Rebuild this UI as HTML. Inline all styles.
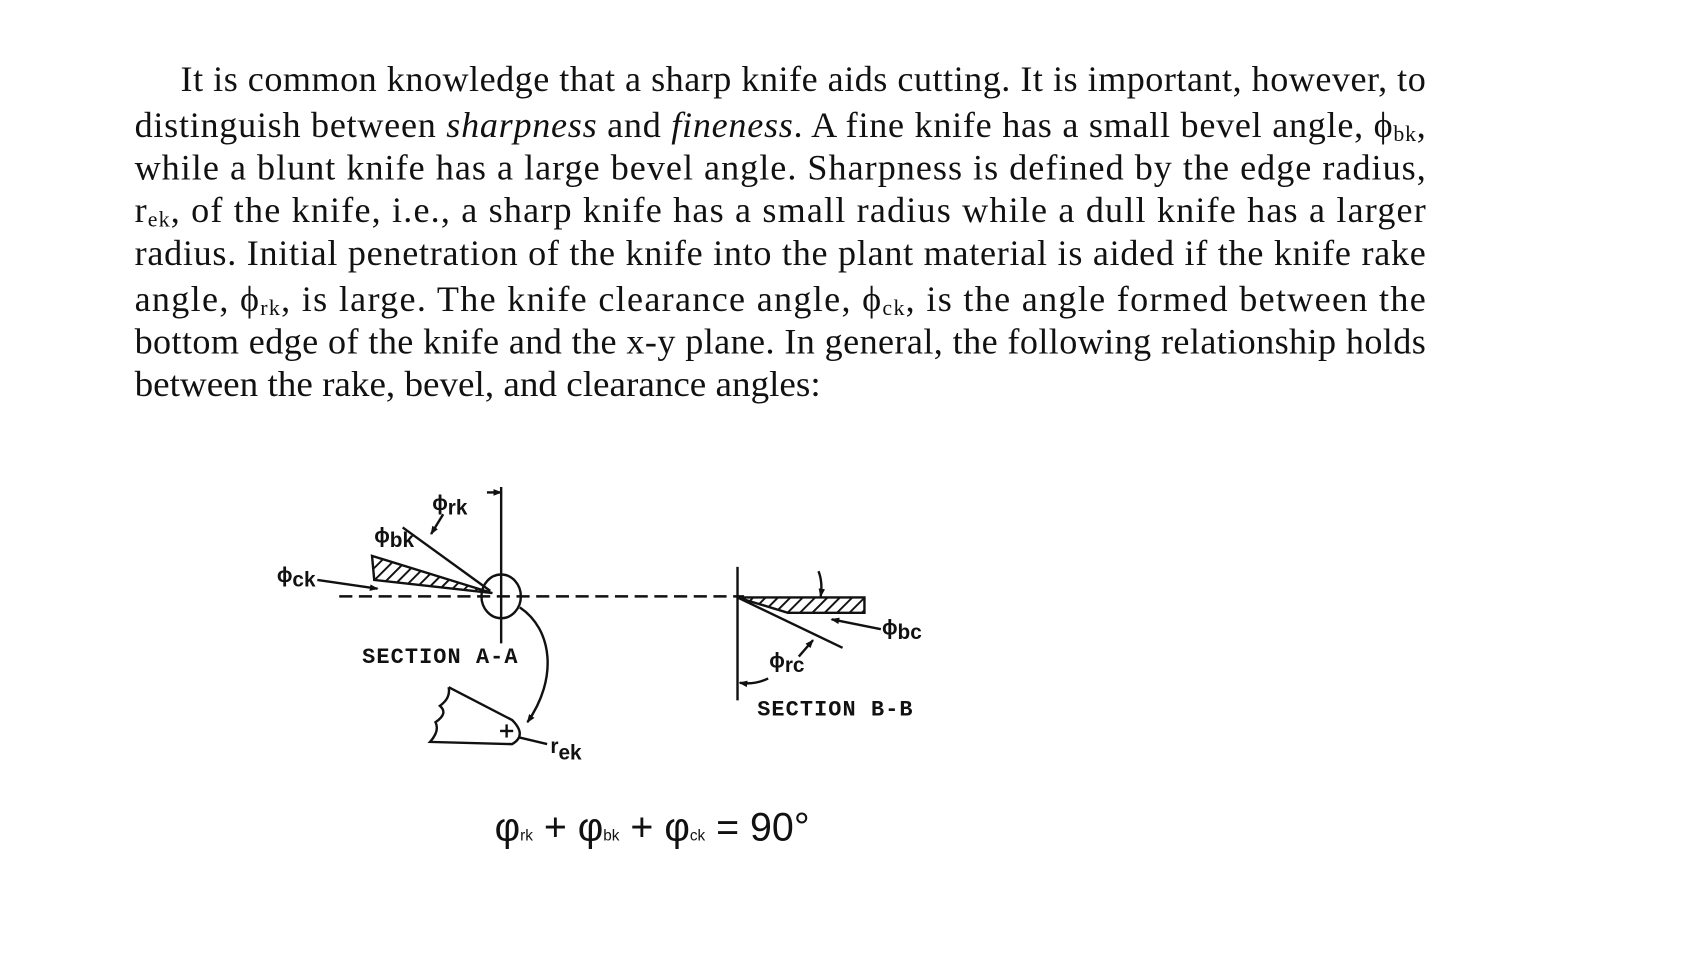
<!DOCTYPE html>
<html><head><meta charset="utf-8"><style>
html,body{margin:0;padding:0;background:#fff;width:1707px;height:960px;overflow:hidden}
svg{display:block}
.t{font-family:"Liberation Serif",serif;font-size:33px;fill:#111}
.s{font-size:20px}
.lab{font-family:"Liberation Sans",sans-serif;font-size:19px;font-weight:bold;fill:#111}
.sec{font-family:"Liberation Mono",monospace;font-size:20px;font-weight:bold;fill:#111;letter-spacing:1px}
</style></head><body>
<svg width="1707" height="960" viewBox="0 0 1560 877.3" preserveAspectRatio="none" xmlns="http://www.w3.org/2000/svg">
<defs>
<pattern id="h" width="8" height="8" patternUnits="userSpaceOnUse" patternTransform="rotate(45)">
<rect width="8" height="8" fill="#fff"/><line x1="0" y1="0" x2="0" y2="8" stroke="#111" stroke-width="3.5"/></pattern>
<marker id="a" markerWidth="8" markerHeight="8" refX="7" refY="4" orient="auto" markerUnits="userSpaceOnUse"><path d="M0,1 L8,4 L0,7 z" fill="#111"/></marker>
</defs>
<text class="t" x="165" y="83" textLength="1138" lengthAdjust="spacing">It is common knowledge that a sharp knife aids cutting. It is important, however, to</text>
<text class="t" x="123" y="125" textLength="1180" lengthAdjust="spacing">distinguish between <tspan font-style="italic">sharpness</tspan> and <tspan font-style="italic">fineness</tspan>. A fine knife has a small bevel angle, ϕ<tspan class="s" dy="4">bk</tspan><tspan dy="-4">,</tspan></text>
<text class="t" x="123" y="164" textLength="1180" lengthAdjust="spacing">while a blunt knife has a large bevel angle. Sharpness is defined by the edge radius,</text>
<text class="t" x="123" y="203" textLength="1180" lengthAdjust="spacing">r<tspan class="s" dy="4">ek</tspan><tspan dy="-4">, of the knife, i.e., a sharp knife has a small radius while a dull knife has a larger</tspan></text>
<text class="t" x="123" y="242" textLength="1180" lengthAdjust="spacing">radius. Initial penetration of the knife into the plant material is aided if the knife rake</text>
<text class="t" x="123" y="284" textLength="1180" lengthAdjust="spacing">angle, ϕ<tspan class="s" dy="4">rk</tspan><tspan dy="-4">, is large. The knife clearance angle, ϕ</tspan><tspan class="s" dy="4">ck</tspan><tspan dy="-4">, is the angle formed between the</tspan></text>
<text class="t" x="123" y="323" textLength="1180" lengthAdjust="spacing">bottom edge of the knife and the x-y plane. In general, the following relationship holds</text>
<text class="t" x="123" y="362" textLength="627" lengthAdjust="spacingAndGlyphs">between the rake, bevel, and clearance angles:</text>

<g stroke="#111" stroke-width="2.2" fill="none">
<line x1="458" y1="445" x2="458" y2="588"/>
<line x1="445" y1="450" x2="458" y2="450" marker-end="url(#a)"/>
<ellipse cx="458" cy="545" rx="18" ry="20"/>
<line x1="310" y1="545" x2="680" y2="545" stroke-dasharray="12,6"/>
<polygon points="340,508 450,542 342,530" fill="url(#h)"/>
<line x1="368" y1="482" x2="448" y2="540"/>
<line x1="405" y1="470" x2="394" y2="488" marker-end="url(#a)"/>
<line x1="290" y1="530" x2="345" y2="538" marker-end="url(#a)"/>
<path d="M475,555 C505,575 510,620 482,660" marker-end="url(#a)"/>
<path d="M410,628 L468,658 Q482,672 468,680 L393,678 Q402,668 398,660 Q410,652 402,645 Q412,638 410,628"/>
<line x1="457" y1="668" x2="469" y2="668"/><line x1="463" y1="662" x2="463" y2="674"/>
<line x1="500" y1="680" x2="475" y2="674"/>
<line x1="674" y1="518" x2="674" y2="640"/>
<polygon points="674,546 790,546 790,560 720,560" fill="url(#h)"/>
<line x1="674" y1="546" x2="770" y2="592"/>
<path d="M748,522 Q752,532 750,545" marker-end="url(#a)"/>
<line x1="805" y1="575" x2="760" y2="566" marker-end="url(#a)"/>
<line x1="730" y1="600" x2="743" y2="585" marker-end="url(#a)"/>
<path d="M702,620 Q690,626 676,624" marker-end="url(#a)"/>
</g>
<text class="lab" x="395" y="466">ϕ<tspan dy="4">rk</tspan></text>
<text class="lab" x="342" y="496">ϕ<tspan dy="4">bk</tspan></text>
<text class="lab" x="253" y="532">ϕ<tspan dy="4">ck</tspan></text>
<text class="lab" x="806" y="580">ϕ<tspan dy="4">bc</tspan></text>
<text class="lab" x="703" y="610">ϕ<tspan dy="4">rc</tspan></text>
<text class="lab" x="503" y="688" font-size="22">r<tspan dy="6">ek</tspan></text>
<text class="sec" x="331" y="606">SECTION A-A</text>
<text class="sec" x="692" y="654">SECTION B-B</text>
<text x="452" y="768" font-family="Liberation Sans,sans-serif" font-size="36" fill="#111">φ<tspan font-size="14">rk</tspan> + φ<tspan font-size="14">bk</tspan> + φ<tspan font-size="14">ck</tspan> = 90°</text>
</svg>
</body></html>
